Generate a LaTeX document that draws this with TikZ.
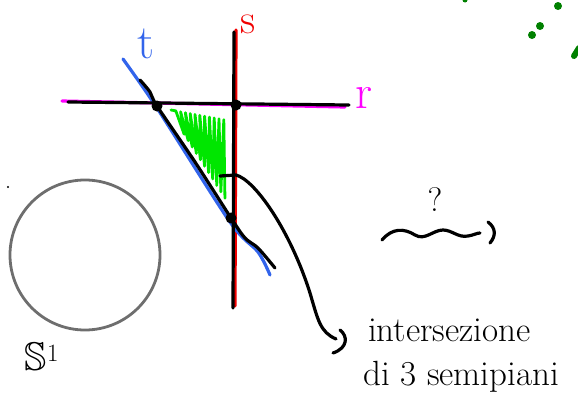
\documentclass[tikz,border=0pt]{standalone}
\usepackage{amssymb}
\usetikzlibrary{calc}
\definecolor{rmag}{RGB}{255,0,255}
\definecolor{tblue}{RGB}{50,100,235}
\definecolor{sred}{RGB}{240,0,0}
\definecolor{hgreen}{RGB}{0,230,0}
\definecolor{dgreen}{RGB}{0,128,0}
\definecolor{cgray}{RGB}{110,110,110}
\begin{document}
\begin{tikzpicture}[x=1pt,y=-1pt,line cap=round,line join=round,
  ink/.style={line width=3.2pt},
  dotpt/.style={circle,fill=black,inner sep=0pt,minimum size=11pt},
  lbl/.style={inner sep=0pt,font=\fontsize{48}{48}\selectfont},
  txt/.style={inner sep=0pt,anchor=west,font=\fontsize{35}{35}\selectfont},
  gdot/.style={circle,fill=dgreen,inner sep=0pt}]
\useasboundingbox (0,0) rectangle (578,399);
% coordinates
\coordinate (rm1) at (62,101); \coordinate (rm2) at (345,107);
\coordinate (rb1) at (68,102); \coordinate (rb2) at (349,105);
\coordinate (sr1) at (236,30); \coordinate (sr2) at (235,306);
\coordinate (sb1) at (234,32); \coordinate (sb2) at (233,308);
% colored lines
\draw[ink,rmag] (rm1) -- (rm2);
\draw[ink,sred] (sr1) -- (sr2);
\draw[ink,tblue] plot[smooth] coordinates {(123,59) (157,108) (230,222) (258,252) (270,275)};
% black lines
\draw[ink] (rb1) -- (rb2);
\draw[ink] (sb1) -- (sb2);
\draw[ink] plot[smooth] coordinates {(140,80) (150,92) (157,106) (195,162) (231,218) (245,238) (258,248) (275,268)};
% hatch
\coordinate (T1) at (171,110); \coordinate (T2) at (231,121);
\coordinate (B1) at (177,123); \coordinate (B2) at (228,203);
\draw[hgreen,line width=2.8pt] (T1)
  \foreach \u [evaluate=\u as \v using \u+0.06] in {0.08,0.16,...,0.94} { -- ($(T1)!\u!(T2)$) -- ($(B1)!\v!(B2)$) };
% dots
\node[dotpt] (A) at (157,106) {};
\node[dotpt] (B) at (236,105) {};
\node[dotpt] (C) at (231,218) {};
% labels
\node[lbl,text=sred,font=\fontsize{42}{42}\selectfont] (sl) at (248,24) {s};
\node[lbl,text=tblue] (tl) at (146,44) {t};
\node[lbl,text=rmag] (rl) at (364,98) {r};
% leader
\coordinate (L0) at (220,176);
\coordinate (L1) at (236,175);
\coordinate (L2) at (310,293);
\coordinate (L3) at (336,339);
\draw[ink] (L0) -- (L1) .. controls (255,180) and (290,230) .. (L2) .. controls (318,320) and (320,332) .. (L3);
\draw[ink] (340,330) .. controls (348,336) and (348,348) .. (333,353);
\node[txt] (t1) at (368,330) {intersezione};
\node[txt] (t2) at (363,377) {di 3 semipiani};
% circle
\node[circle,draw=cgray,line width=2.8pt,minimum size=150pt,inner sep=0pt] (S) at (85,255) {};
\node[inner sep=0pt,font=\fontsize{40}{40}\selectfont] (Sl) at (42,357) {$\mathbb{S}^1$};
\fill (8,187) circle (1.2pt);
% question
\node[inner sep=0pt,font=\fontsize{34}{34}\selectfont] (q) at (435,200) {?};
\draw[ink] (382,240) .. controls (392,228) and (404,228) .. (415,235) .. controls (425,241) and (433,230) .. (443,230) .. controls (452,230) and (458,238) .. (468,236) .. controls (474,235) and (477,233) .. (480,233);
\draw[ink] (488,222) .. controls (496,228) and (496,236) .. (490,243);
% green dots
\node[gdot,minimum size=8pt] (g1) at (558,6) {};
\node[gdot,minimum size=8pt] (g2) at (540,26) {};
\node[gdot,minimum size=8pt] (g3) at (532,35) {};
\node[gdot,minimum size=5pt] (g4) at (465,0) {};
\draw[dgreen,line width=6pt] (574,56) -- (579,48);
\end{tikzpicture}
\end{document}
